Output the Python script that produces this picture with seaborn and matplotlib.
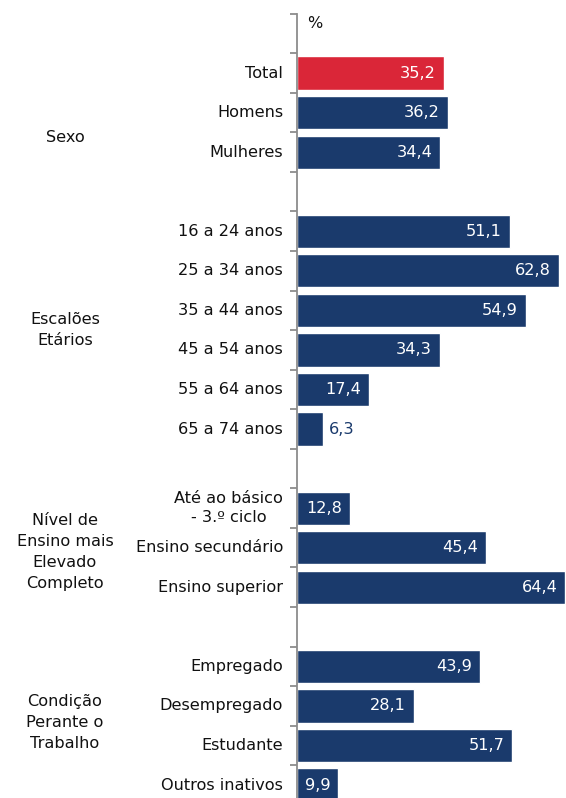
import matplotlib
matplotlib.use("Agg")
import matplotlib.pyplot as plt
import seaborn as sns
import pandas as pd
import numpy as np

# ---- data ----
categories = ["", "Total", "Homens", "Mulheres", " ",
              "16 a 24 anos", "25 a 34 anos", "35 a 44 anos", "45 a 54 anos",
              "55 a 64 anos", "65 a 74 anos", "  ",
              "Até ao básico\n- 3.º ciclo", "Ensino secundário", "Ensino superior", "   ",
              "Empregado", "Desempregado", "Estudante", "Outros inativos"]
values = [np.nan, 35.2, 36.2, 34.4, np.nan,
          51.1, 62.8, 54.9, 34.3, 17.4, 6.3, np.nan,
          12.8, 45.4, 64.4, np.nan,
          43.9, 28.1, 51.7, 9.9]
groups = ["Sexo", "Escalões\nEtários", "Nível de\nEnsino mais\nElevado\nCompleto",
          "Condição\nPerante o\nTrabalho"]
group_rows = [2.64, 7.5, 13.1, 17.43]
unit_label = "%"

NAVY = "#1a3a6c"
RED = "#da2638"

df = pd.DataFrame({"cat": categories, "val": values})
df["val_plot"] = df["val"].fillna(0)
colors = [RED if c == "Total" else NAVY for c in categories]

sns.set_style("white")
plt.rcParams["font.family"] = ["DejaVu Sans"]

FS = 11.6

fig = plt.figure(figsize=(5.66, 7.98), dpi=100)
ax = fig.add_axes([0.5247, -0.0085, 0.4753, 0.9913])

sns.barplot(data=df, y="cat", x="val_plot", hue="cat", palette=colors,
            order=categories, hue_order=categories, legend=False,
            orient="h", width=0.84, ax=ax, saturation=1)

ax.set_xlim(0, 64.6)
ax.set_ylim(len(categories) - 0.5, -0.5)
ax.set_xlabel("")
ax.set_ylabel("")
ax.set_xticks([])
for s in ["top", "right", "bottom"]:
    ax.spines[s].set_visible(False)
ax.spines["left"].set_color("#8c8c8c")
ax.spines["left"].set_linewidth(1.3)

# tick marks at row boundaries
ax.set_yticks([])
ax.set_yticks(np.arange(-0.5, len(categories) - 0.4, 1), minor=True)
ax.tick_params(axis="y", which="minor", length=5, width=1.3, color="#8c8c8c",
               left=True, labelleft=False)

# category labels
for i, c in enumerate(categories):
    if c.strip():
        ax.text(-3.3, i, c, ha="right", va="center", multialignment="center",
                fontsize=FS, color="#111111", linespacing=1.3)

# values
for i, v in enumerate(values):
    if np.isnan(v):
        continue
    lab = f"{v:.1f}".replace(".", ",")
    if v < 8:
        ax.text(v + 1.3, i, lab, ha="left", va="center", fontsize=FS, color=NAVY)
    else:
        ax.text(v - 1.9, i, lab, ha="right", va="center", fontsize=FS, color="white")

# group labels
for g, r in zip(groups, group_rows):
    ax.annotate(g, xy=(65 / 566, r), xycoords=("figure fraction", "data"),
                ha="center", va="center", fontsize=FS, color="#111111",
                linespacing=1.5)

ax.text(2.5, -0.25, unit_label, ha="left", va="center", fontsize=FS, color="#111111")

fig.savefig("out.png", dpi=100)
